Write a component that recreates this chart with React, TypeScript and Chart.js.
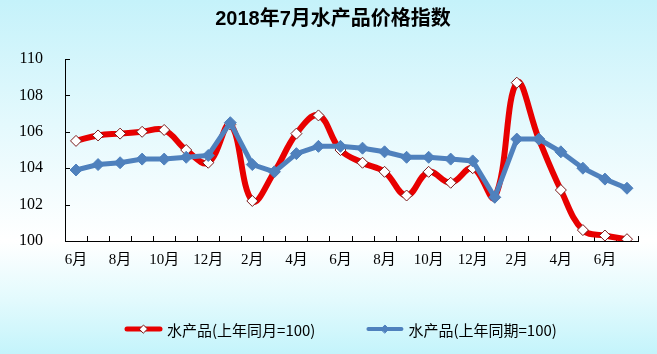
import React, { useEffect, useRef } from "react";
import { Chart, registerables } from "chart.js";
Chart.register(...registerables);

const months = ["6月","7月","8月","9月","10月","11月","12月","1月","2月","3月","4月","5月","6月","7月","8月","9月","10月","11月","12月","1月","2月","3月","4月","5月","6月","7月"];
const sameMonthIndex = [105.5,105.8,105.9,106.0,106.1,105.0,104.3,106.4,102.2,103.8,105.9,106.9,105.0,104.3,103.8,102.5,103.8,103.2,104.0,102.4,108.7,105.6,102.8,100.6,100.3,100.1];
const samePeriodIndex = [103.9,104.2,104.3,104.5,104.5,104.6,104.7,106.5,104.2,103.8,104.8,105.2,105.2,105.1,104.9,104.6,104.6,104.5,104.4,102.4,105.6,105.6,104.9,104.0,103.4,102.9];
const yTicks = [100,102,104,106,108,110];
const seriesNames = ["水产品(上年同月=100)", "水产品(上年同期=100)"];
const titleText = "2018年7月水产品价格指数";

const RED = "#e80000";
const BLUE = "#4f81bd";

const overlayPlugin = {
  id: "overlay",
  beforeDatasetsDraw(chart: any) {
    const { ctx, chartArea, scales } = chart;
    const x = scales.x, y = scales.y;
    ctx.save();
    ctx.strokeStyle = "#000";
    ctx.lineWidth = 1;
    for (const v of yTicks) {
      const py = Math.round(y.getPixelForValue(v)) + 0.5;
      ctx.beginPath();
      ctx.moveTo(chartArea.left, py);
      ctx.lineTo(chartArea.left + 5, py);
      ctx.stroke();
    }
    const half = (x.getPixelForValue(1) - x.getPixelForValue(0)) / 2;
    for (let i = 0; i < months.length; i++) {
      const px = Math.round(x.getPixelForValue(i) + half) + 0.5;
      ctx.beginPath();
      ctx.moveTo(px, chartArea.bottom);
      ctx.lineTo(px, chartArea.bottom - 5);
      ctx.stroke();
    }
    ctx.restore();
  },
  afterDraw(chart: any) {
    const { ctx } = chart;
    ctx.save();
    // title
    ctx.font = "bold 20px 'Liberation Sans', 'Noto Sans CJK SC', sans-serif";
    ctx.textAlign = "center";
    ctx.textBaseline = "middle";
    ctx.fillStyle = "#000";
    ctx.fillText(titleText, 333, 19);
    // legend
    ctx.textAlign = "left";
    const ly = 329;
    ctx.font = "15px 'Noto Sans CJK SC', sans-serif";
    const drawItem = (x0: number, color: string, lw: number, diamondFill: string, diamondStroke: string, r: number, text: string) => {
      ctx.strokeStyle = color;
      ctx.lineWidth = lw;
      ctx.lineCap = "round";
      ctx.beginPath();
      ctx.moveTo(x0 + 2, ly);
      ctx.lineTo(x0 + 35, ly);
      ctx.stroke();
      const cx = x0 + 18.5;
      ctx.beginPath();
      ctx.moveTo(cx - r, ly);
      ctx.lineTo(cx, ly - r);
      ctx.lineTo(cx + r, ly);
      ctx.lineTo(cx, ly + r);
      ctx.closePath();
      ctx.fillStyle = diamondFill;
      ctx.fill();
      ctx.lineWidth = 1;
      ctx.strokeStyle = diamondStroke;
      ctx.stroke();
      ctx.fillStyle = "#000";
      ctx.fillText(text, x0 + 42, ly + 1);
      return x0 + 42 + ctx.measureText(text).width;
    };
    const end1 = drawItem(125, RED, 5, "#ffffff", "#7a1a1a", 4, seriesNames[0]);
    drawItem(end1 + 51, BLUE, 4, BLUE, BLUE, 4, seriesNames[1]);
    ctx.restore();
  },
};

export default function App() {
  const ref = useRef<HTMLCanvasElement | null>(null);
  useEffect(() => {
    if (!ref.current) return;
    const chart = new Chart(ref.current, {
      type: "line",
      data: {
        labels: months,
        datasets: [
          {
            label: seriesNames[0],
            data: sameMonthIndex,
            borderColor: RED,
            borderWidth: 6,
            tension: 0.4,
            pointStyle: "rectRot",
            pointRadius: 5.5,
            pointBackgroundColor: "#ffffff",
            pointBorderColor: "#7a1a1a",
            pointBorderWidth: 1,
            order: 2,
          },
          {
            label: seriesNames[1],
            data: samePeriodIndex,
            borderColor: BLUE,
            borderWidth: 5,
            tension: 0,
            pointStyle: "rectRot",
            pointRadius: 6,
            pointBackgroundColor: BLUE,
            pointBorderColor: BLUE,
            pointBorderWidth: 1,
            order: 1,
          },
        ],
      },
      options: {
        responsive: false,
        animation: false,
        layout: { padding: { left: 0, right: 19, top: 59, bottom: 83 } },
        plugins: {
          legend: { display: false },
          tooltip: { enabled: false },
          title: { display: false },
        },
        scales: {
          x: {
            type: "category",
            offset: true,
            grid: { display: true, drawOnChartArea: false, drawTicks: false, offset: true },
            border: { display: true, color: "#000", width: 1 },
            ticks: {
              autoSkip: false,
              maxRotation: 0,
              padding: 10,
              color: "#000",
              font: { size: 15, family: "'Liberation Serif', 'Noto Sans CJK SC', serif" },
              callback: (_v: any, i: number) => (i % 2 === 0 ? months[i] : ""),
            },
            afterFit: (s: any) => { s.height = 30; },
          },
          y: {
            min: 100,
            max: 110,
            grid: { display: true, drawOnChartArea: false, drawTicks: false },
            border: { display: true, color: "#000", width: 1 },
            ticks: {
              stepSize: 2,
              padding: 22,
              color: "#000",
              font: { size: 16, family: "'Liberation Serif', serif" },
            },
            afterFit: (s: any) => { s.width = 65; },
          },
        },
      },
      plugins: [overlayPlugin],
    });
    return () => chart.destroy();
  }, []);
  return (
    <div
      style={{
        position: "fixed",
        left: 0,
        top: 0,
        width: 657,
        height: 354,
        background: "linear-gradient(to bottom, #c5f2fa 0%, #e4f9fd 35%, #ffffff 68%, #e2fafd 85%, #c4f4fb 100%)",
      }}
    >
      <canvas ref={ref} width={657} height={354} style={{ display: "block", width: 657, height: 354 }} />
    </div>
  );
}
